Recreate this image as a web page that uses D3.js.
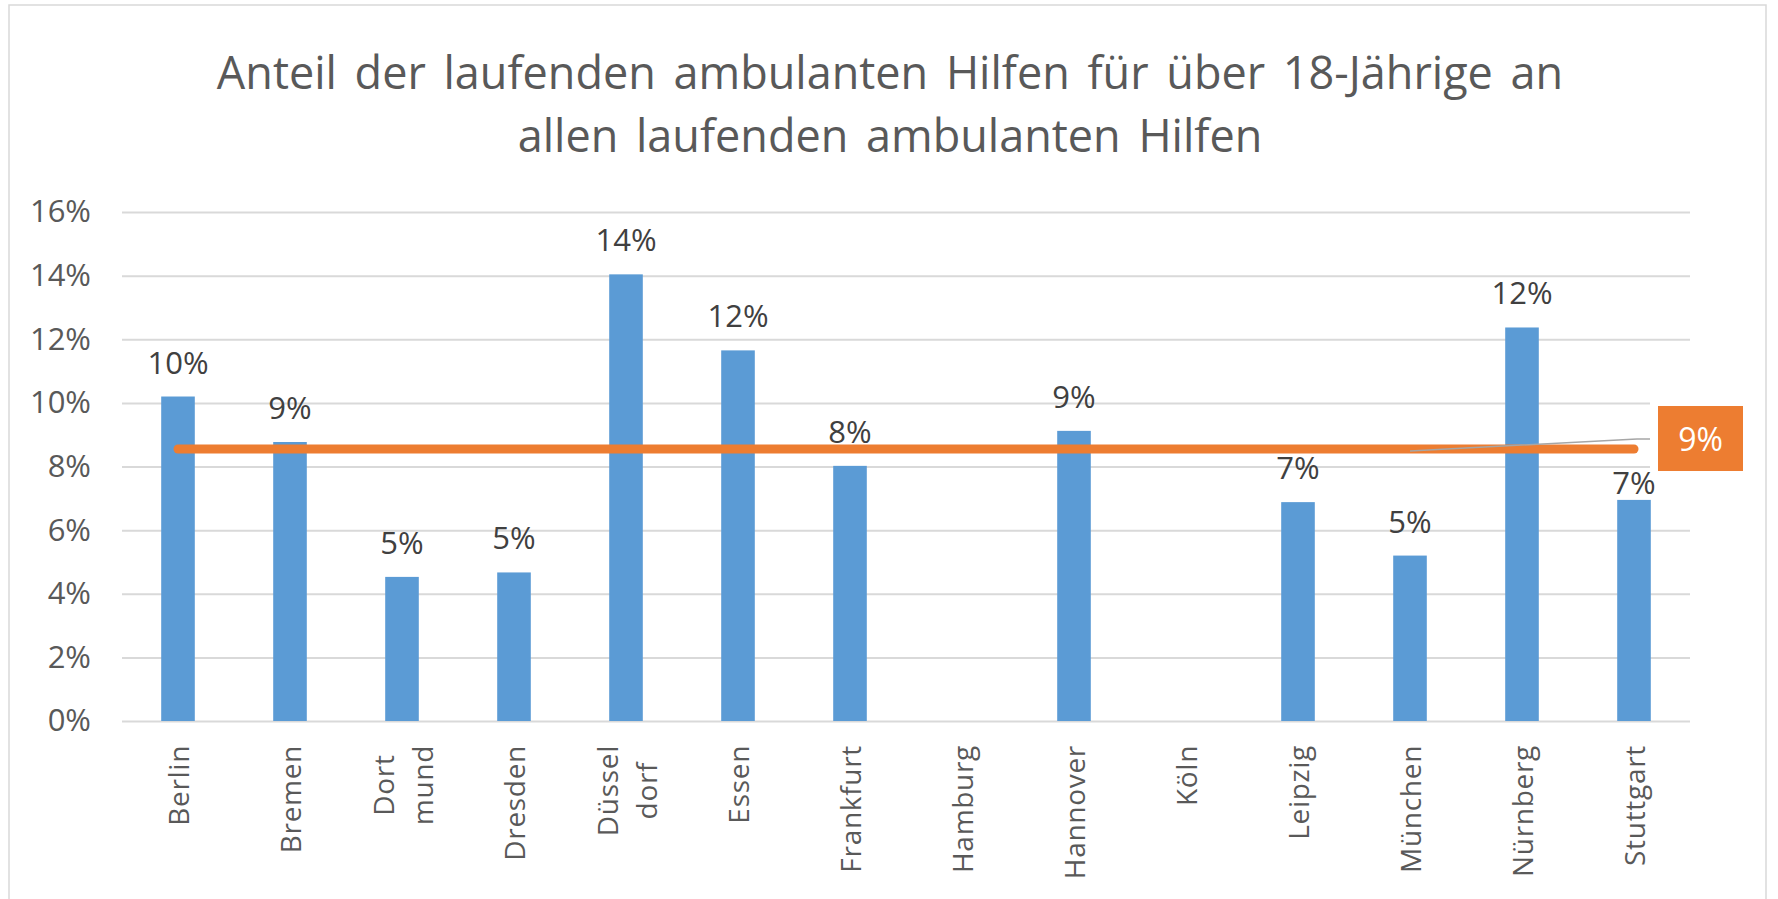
<!DOCTYPE html>
<html>
<head>
<meta charset="utf-8">
<script src="https://cdn.jsdelivr.net/npm/d3@7"></script>
<style>
  html, body { margin: 0; padding: 0; background: #fff; }
  svg { display: block; }
</style>
</head>
<body>
<svg id="chart"></svg>
<script>
var titleLines = ["Anteil der laufenden ambulanten Hilfen für über 18-Jährige an", "allen laufenden ambulanten Hilfen"];
var cities = ["Berlin", "Bremen", "Dort\nmund", "Dresden", "Düssel\ndorf", "Essen", "Frankfurt", "Hamburg", "Hannover", "Köln", "Leipzig", "München", "Nürnberg", "Stuttgart"];
var shares = [10.2, 8.77, 4.53, 4.67, 14.04, 11.65, 8.02, null, 9.12, null, 6.88, 5.2, 12.37, 6.95];
var average = 8.55;
var avgLabelCity = "München";
var yTicks = [0, 2, 4, 6, 8, 10, 12, 14, 16];

var width = 1778, height = 899;
var margin = { top: 212, right: 88, bottom: 178, left: 122 };
var font = "'Open Sans', Lato, sans-serif";
var blue = "#5B9BD5", orange = "#ED7D31", grid = "#D9D9D9", textCol = "#595959";

var svg = d3.select("#chart").attr("width", width).attr("height", height);

// outer frame
svg.append("rect")
    .attr("x", 9).attr("y", 5)
    .attr("width", 1757).attr("height", height + 10)
    .attr("fill", "#fff").attr("stroke", grid).attr("stroke-width", 1.5);

svg.append("g").selectAll("text")
    .data(titleLines)
    .enter().append("text")
    .attr("x", 890)
    .attr("y", function (d, i) { return 89 + i * 63; })
    .attr("text-anchor", "middle")
    .style("font-family", font).style("font-size", "45px").style("fill", textCol)
    .style("word-spacing", "6px")
    .text(function (d) { return d; });

var xScale = d3.scaleBand()
    .domain(cities)
    .range([margin.left, width - margin.right])
    .paddingInner(0.7)
    .paddingOuter(0.35);

var yScale = d3.scaleLinear()
    .domain([0, 16])
    .range([height - margin.bottom, margin.top]);

function cx(c) { return xScale(c) + xScale.bandwidth() / 2; }

// gridlines + y axis
var yAxis = d3.axisLeft(yScale)
    .tickValues(yTicks)
    .tickSize(-(width - margin.right - margin.left))
    .tickPadding(31)
    .tickFormat(function (d) { return d + "%"; });

var yg = svg.append("g")
    .attr("transform", "translate(" + margin.left + ",0)")
    .call(yAxis);
yg.select(".domain").remove();
yg.selectAll(".tick line").attr("stroke", grid).attr("stroke-width", 2);
yg.selectAll(".tick text")
    .style("font-family", font).style("font-size", "31px").style("fill", textCol);

// white backing of the average label, hides gridline ends
var boxX = cx(cities[cities.length - 1]) + 24, boxW = 85, boxH = 65;
var boxY = yScale(average) - 43;
svg.append("rect")
    .attr("x", boxX - 8).attr("y", boxY - 5)
    .attr("width", boxW + 16).attr("height", boxH + 7)
    .attr("fill", "#fff");

var data = cities.map(function (c, i) { return { city: c, v: shares[i] }; });

svg.append("g").selectAll("rect")
    .data(data.filter(function (d) { return d.v != null; }))
    .enter().append("rect")
    .attr("x", function (d) { return xScale(d.city); })
    .attr("y", function (d) { return yScale(d.v); })
    .attr("width", xScale.bandwidth())
    .attr("height", function (d) { return yScale(0) - yScale(d.v); })
    .attr("fill", blue);

// value labels; a label that would run into the average box is pushed below it
svg.append("g").selectAll("text")
    .data(data.filter(function (d) { return d.v != null; }))
    .enter().append("text")
    .attr("x", function (d) { return cx(d.city); })
    .attr("y", function (d) {
        var y = yScale(d.v) - 23;
        if (cx(d.city) + 30 > boxX && y - 22 < boxY + boxH && y > boxY) y = boxY + boxH + 23;
        return y;
    })
    .attr("text-anchor", "middle")
    .style("font-family", font).style("font-size", "31px").style("fill", "#404040")
    .text(function (d) { return Math.round(d.v) + "%"; });

// average line
var line = d3.line()
    .x(function (d) { return cx(d); })
    .y(function () { return yScale(average); });

svg.append("path")
    .datum(cities)
    .attr("d", line)
    .attr("fill", "none")
    .attr("stroke", orange)
    .attr("stroke-width", 9)
    .attr("stroke-linecap", "round");

// x labels, rotated
var labelEnd = height - margin.bottom + 24;
var xl = svg.append("g");
cities.forEach(function (c) {
    var parts = c.split("\n");
    var texts = parts.map(function (p, j) {
        return xl.append("text")
            .attr("text-anchor", "middle")
            .attr("dominant-baseline", "central")
            .style("font-family", font).style("font-size", "28px").style("fill", textCol)
            .style("letter-spacing", "0.7px")
            .text(p);
    });
    var maxLen = d3.max(texts, function (t) { return t.node().getComputedTextLength(); });
    texts.forEach(function (t, j) {
        var dx = (j - (parts.length - 1) / 2) * 39;
        t.attr("transform", "translate(" + (cx(c) + dx) + "," + (labelEnd + maxLen / 2) + ") rotate(-90)");
    });
});

// average data label with leader line
svg.append("polyline")
    .attr("points", [[cx(avgLabelCity), yScale(average) + 2], [boxX - 21, boxY + 33], [boxX - 8, boxY + 33]].join(" "))
    .attr("fill", "none").attr("stroke", "#A6A6A6").attr("stroke-width", 1.5);
svg.append("rect")
    .attr("x", boxX).attr("y", boxY)
    .attr("width", boxW).attr("height", boxH)
    .attr("fill", orange);
svg.append("text")
    .attr("x", boxX + boxW / 2).attr("y", boxY + boxH / 2)
    .attr("text-anchor", "middle").attr("dominant-baseline", "central")
    .style("font-family", font).style("font-size", "32px").style("fill", "#fff")
    .text(Math.round(average) + "%");
</script>
</body>
</html>
